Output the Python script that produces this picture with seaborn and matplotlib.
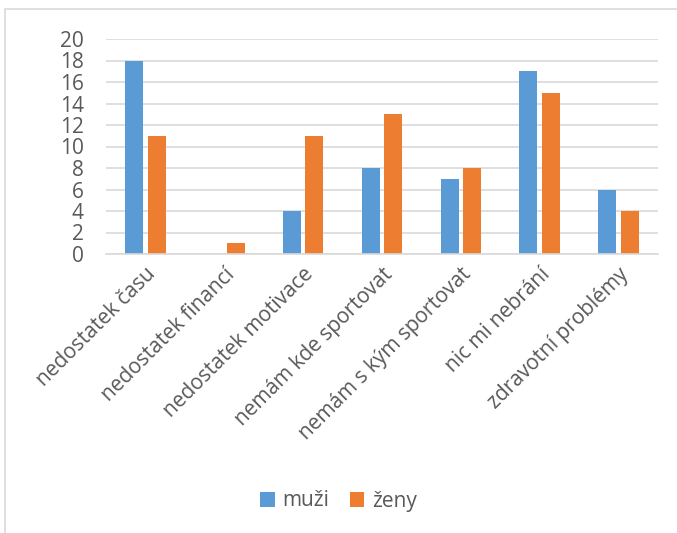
import matplotlib
matplotlib.use("Agg")
import matplotlib.pyplot as plt
import seaborn as sns
import pandas as pd
from matplotlib.patches import Rectangle

categories = ["nedostatek času", "nedostatek financí", "nedostatek motivace",
              "nemám kde sportovat", "nemám s kým sportovat", "nic mi nebrání",
              "zdravotní problémy"]
muzi = [18, 0, 4, 8, 7, 17, 6]
zeny = [11, 1, 11, 13, 8, 15, 4]
series = ["muži", "ženy"]
yticks = [0, 2, 4, 6, 8, 10, 12, 14, 16, 18, 20]

df = pd.DataFrame({
    "kat": categories * 2,
    "val": muzi + zeny,
    "pohlavi": [series[0]] * len(categories) + [series[1]] * len(categories),
})

sns.set_theme(style="white")
plt.rcParams['font.family'] = ['Open Sans', 'DejaVu Sans']
text_color = "#595959"
fs = 15

fig = plt.figure(figsize=(6.77, 5.33), dpi=100)
ax = fig.add_axes([106/677, 1-254/533, 552/677, 215/533])

sns.barplot(data=df, x="kat", y="val", hue="pohlavi", ax=ax,
            palette=["#5B9BD5", "#ED7D31"], width=0.57, gap=0.2,
            linewidth=0, saturation=1)

ax.set_ylim(0, 20)
ax.set_yticks(yticks)
ax.set_yticklabels([str(t) for t in yticks], fontsize=fs, color=text_color)
ax.set_xlim(-0.5, len(categories) - 0.5)
ax.set_xticks(range(len(categories)))
ax.set_xticklabels(categories, rotation=45, ha="right", rotation_mode="anchor",
                   fontsize=fs, color=text_color)
ax.tick_params(axis="both", length=0, pad=7)
ax.tick_params(axis="y", pad=16)
ax.set_xlabel("")
ax.set_ylabel("")
ax.yaxis.grid(True, color="#D9D9D9", linewidth=1.2)
ax.set_axisbelow(True)
for s in ["top", "right", "left"]:
    ax.spines[s].set_visible(False)
ax.spines["bottom"].set_color("#D9D9D9")
ax.spines["bottom"].set_linewidth(1.2)

leg = ax.legend(loc="center", bbox_to_anchor=(0.5, 1 - 501/533),
                bbox_transform=fig.transFigure, ncol=2, frameon=False,
                fontsize=fs, handlelength=0.7, handleheight=0.7,
                columnspacing=1.0, handletextpad=0.35)
for t in leg.get_texts():
    t.set_color(text_color)

fig.patches.append(Rectangle((5/677, -0.05), 1.1, 1 - 9/533 + 0.05,
                             transform=fig.transFigure, fill=False,
                             edgecolor="#D9D9D9", linewidth=1.2))

fig.savefig("out.png", dpi=100)
